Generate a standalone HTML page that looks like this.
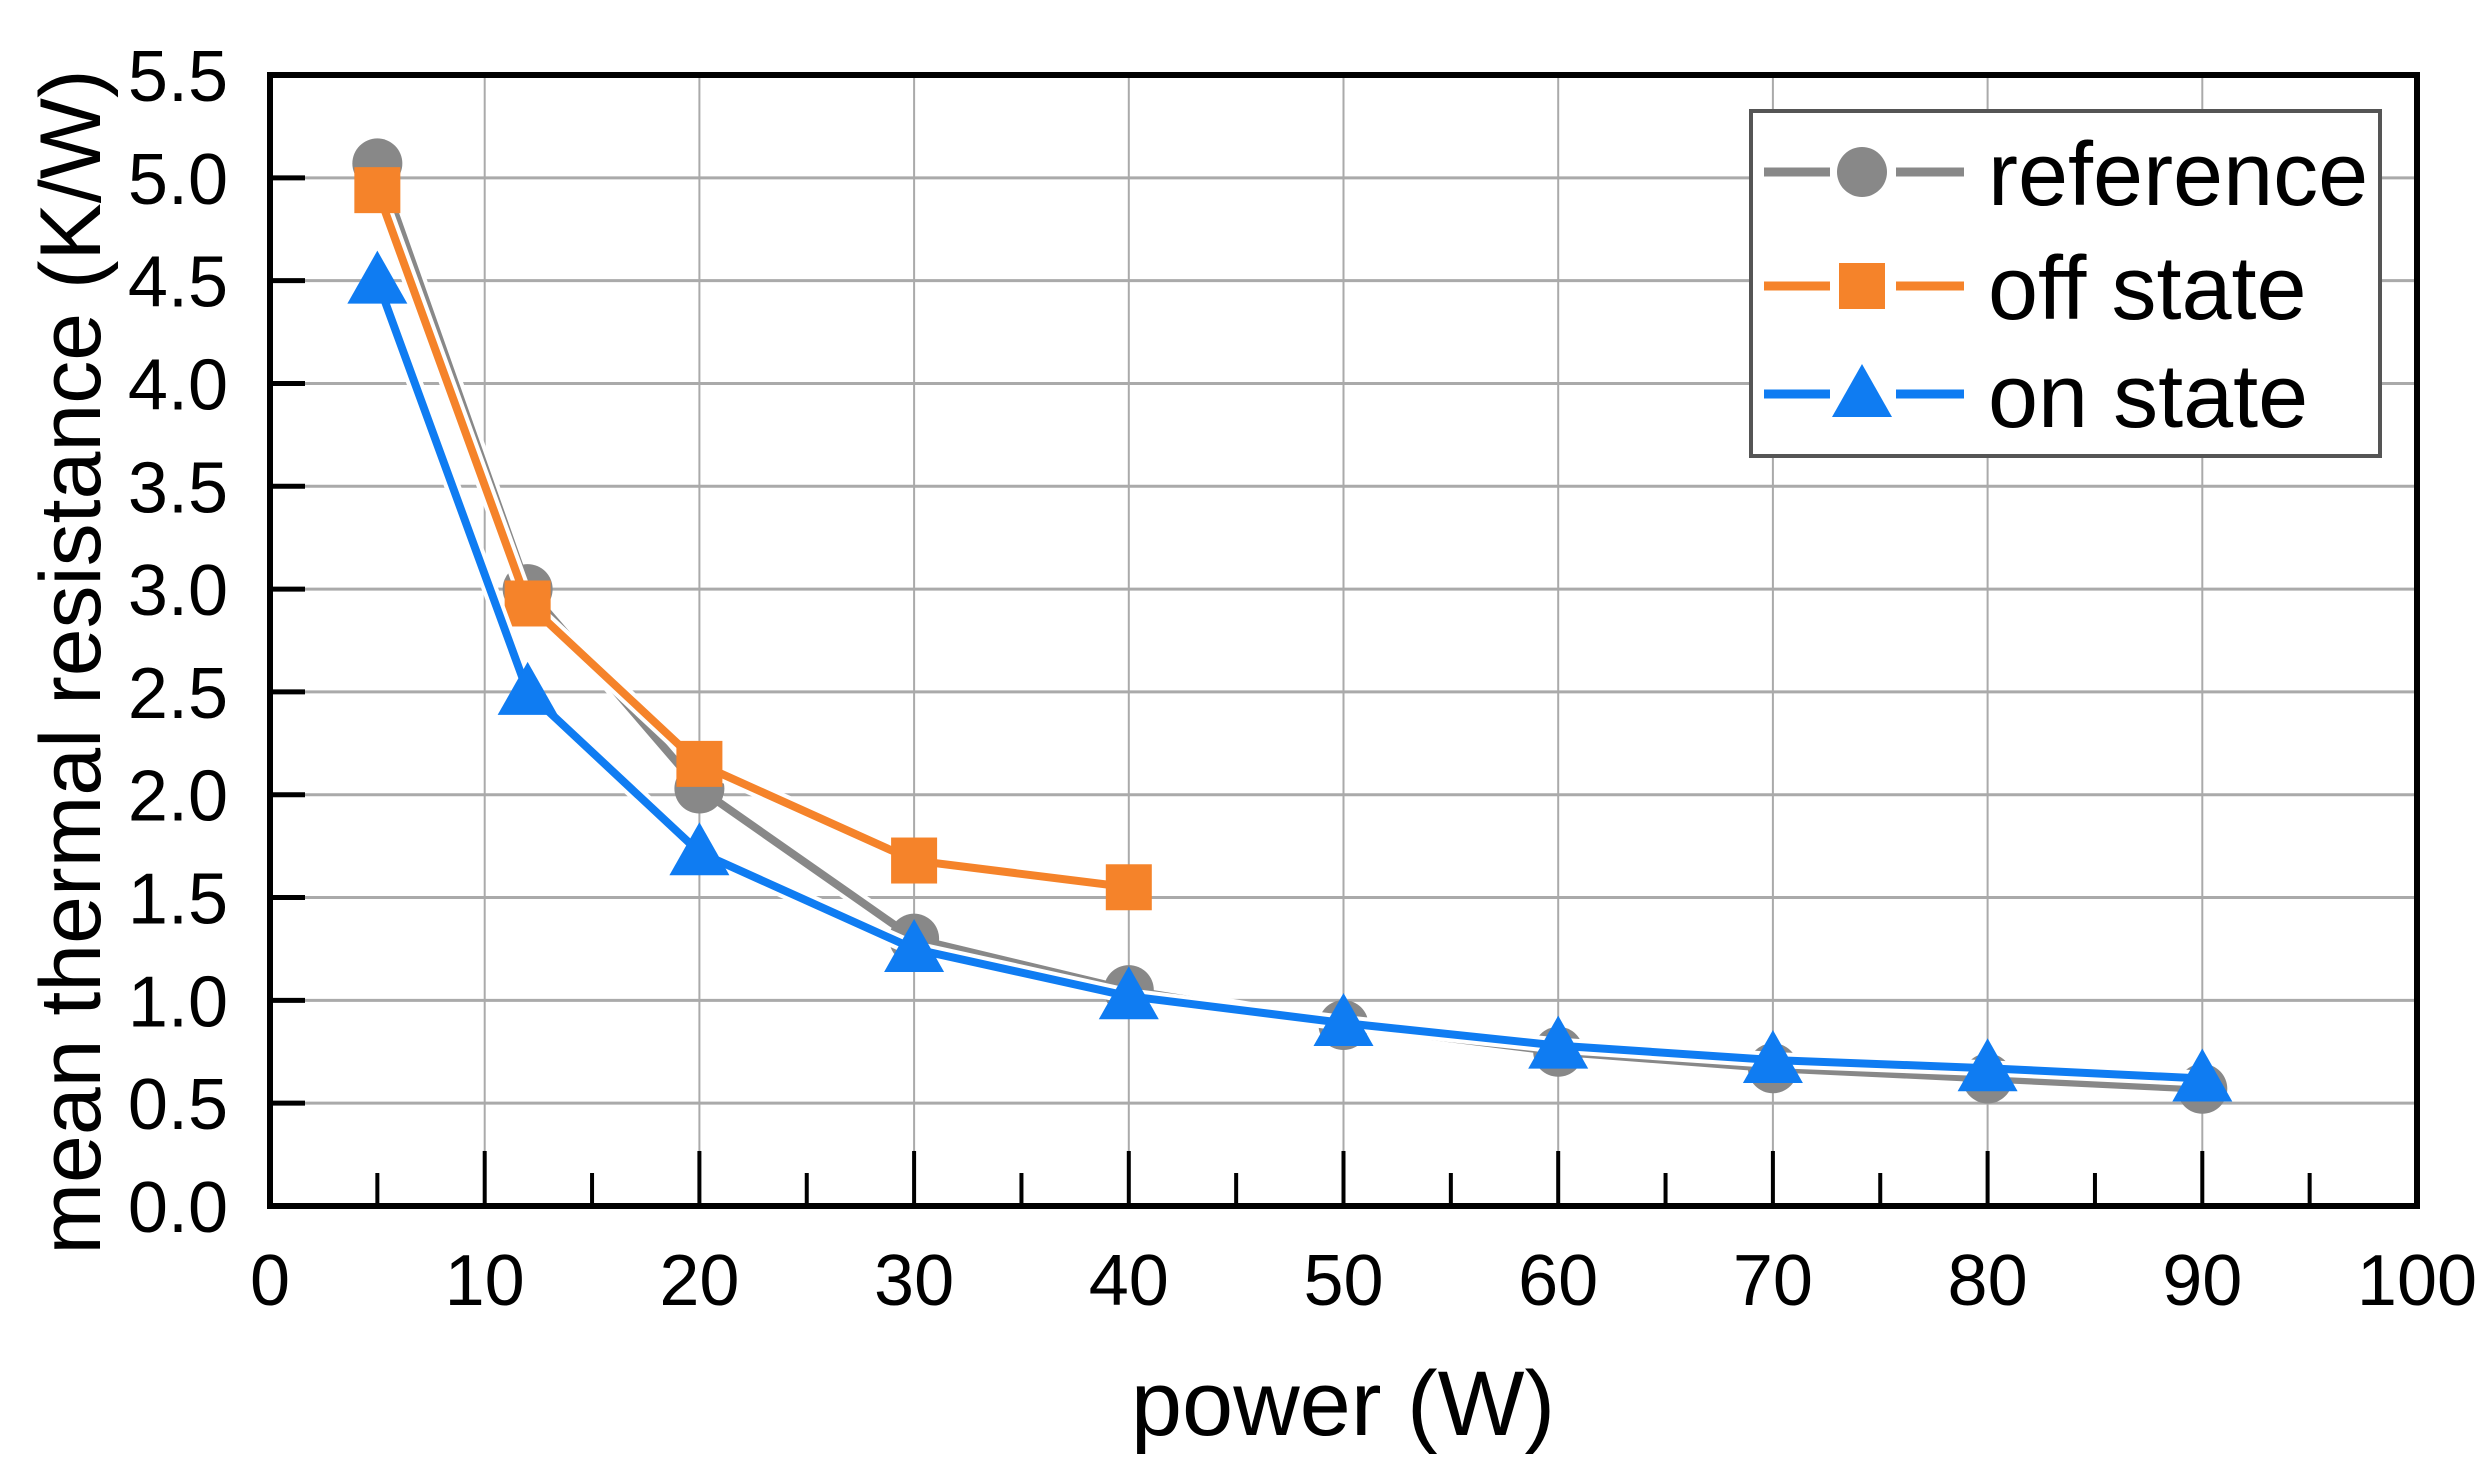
<!DOCTYPE html>
<html><head><meta charset="utf-8"><style>html,body{margin:0;padding:0;background:#fff}svg{display:block}</style></head>
<body>
<svg id="c" width="2492" height="1483" viewBox="0 0 2492 1483" xmlns="http://www.w3.org/2000/svg" font-family="Liberation Sans, Arial, sans-serif"></svg>
<script>
const L=270,R=2417,T=75,B=1206;
const X=v=>L+(R-L)*v/100, Y=v=>B-(B-T)*v/5.5;
let s='';
for(let v=10;v<100;v+=10) s+=`<line x1="${X(v)}" y1="${T}" x2="${X(v)}" y2="${B}" stroke="#aaa" stroke-width="2"/>`;
for(let i=1;i<11;i++){const v=i*0.5; s+=`<line x1="${L}" y1="${Y(v)}" x2="${R}" y2="${Y(v)}" stroke="#aaa" stroke-width="3"/>`;}
for(let v=0;v<=100;v+=5){const len=v%10==0?55:33; s+=`<line x1="${X(v)}" y1="${B}" x2="${X(v)}" y2="${B-len}" stroke="#000" stroke-width="4"/>`;}
for(let i=0;i<=11;i++){s+=`<line x1="${L}" y1="${Y(i*0.5)}" x2="${L+35}" y2="${Y(i*0.5)}" stroke="#000" stroke-width="5"/>`;}
s+=`<rect x="${L}" y="${T}" width="${R-L}" height="${B-T}" fill="none" stroke="#000" stroke-width="6"/>`;
for(let i=0;i<=11;i++) s+=`<text x="${L-42}" y="${Y(i*0.5)+26}" font-size="72" text-anchor="end">${(i*0.5).toFixed(1)}</text>`;
for(let v=0;v<=100;v+=10) s+=`<text x="${X(v)}" y="1305" font-size="72" text-anchor="middle">${v}</text>`;
s+=`<text x="1343" y="1435" font-size="92" text-anchor="middle">power (W)</text>`;
s+=`<text transform="translate(70,662) rotate(-90)" font-size="86" text-anchor="middle" dy="30">mean thermal resistance (K/W)</text>`;
const ref=[[5,5.07],[12,3.0],[20,2.03],[30,1.3],[40,1.05],[50,0.88],[60,0.75],[70,0.67],[80,0.62],[90,0.57]];
const off=[[5,4.94],[12,2.93],[20,2.15],[30,1.68],[40,1.55]];
const on=[[5,4.5],[12,2.5],[20,1.72],[30,1.25],[40,1.02],[50,0.89],[60,0.78],[70,0.71],[80,0.67],[90,0.62]];
function mk(t,x,y,c){
 if(t=='c') return `<circle cx="${x}" cy="${y}" r="25" fill="${c}"/>`;
 if(t=='s') return `<rect x="${x-23}" y="${y-23}" width="46" height="46" fill="${c}"/>`;
 return `<polygon points="${x},${y-30} ${x-30},${y+23} ${x+30},${y+23}" fill="${c}"/>`;
}
function series(d,c,t){
 let p=d.map(q=>`${X(q[0])},${Y(q[1])}`).join(' ');
 let o=`<polyline points="${p}" fill="none" stroke="#fff" stroke-width="16"/>`;
 o+=`<polyline points="${p}" fill="none" stroke="${c}" stroke-width="8"/>`;
 d.forEach(q=>o+=mk(t,X(q[0]),Y(q[1]),c));
 return o;
}
s+=series(ref,'#888888','c');
s+=series(off,'#f5832a','s');
s+=series(on,'#0f7cf2','t');
s+=`<rect x="1751" y="111" width="629" height="345" fill="#fff" stroke="#555" stroke-width="4"/>`;
const lg=[[172,'#888888','c','reference'],[286,'#f5832a','s','off state'],[394,'#0f7cf2','t','on state']];
lg.forEach(r=>{
 s+=`<line x1="1764" y1="${r[0]}" x2="1964" y2="${r[0]}" stroke="${r[1]}" stroke-width="9"/>`;
 s+=`<line x1="1830" y1="${r[0]}" x2="1896" y2="${r[0]}" stroke="#fff" stroke-width="11"/>`;
 s+=mk(r[2],1862,r[0],r[1]);
 s+=`<text x="1988" y="${r[0]+33}" font-size="90">${r[3]}</text>`;
});
document.getElementById('c').innerHTML=s;
</script>
</body></html>
